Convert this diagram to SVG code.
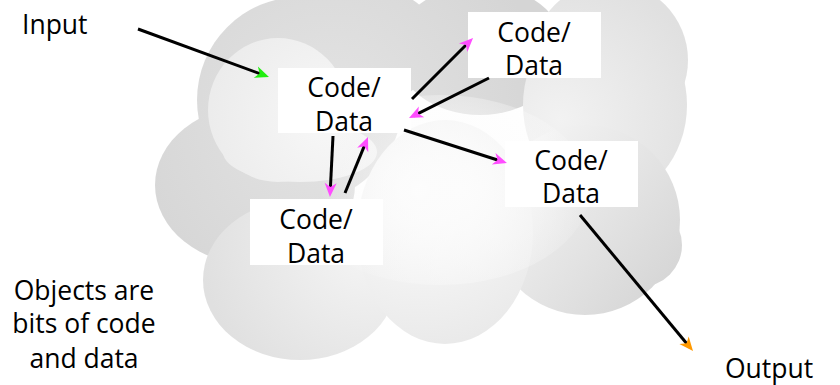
<svg xmlns="http://www.w3.org/2000/svg" width="840" height="385" viewBox="0 0 840 385">
<style>
.t{font-family:"Open Sans",Lato,"Liberation Sans",sans-serif;font-size:26.5px;fill:#000}
.box{fill:#fff}
.c{stroke:#000;stroke-width:3;fill:none}
</style>
<defs>
<radialGradient id="gDark" gradientUnits="userSpaceOnUse" cx="330" cy="120" r="220"><stop offset="0" stop-color="#e4e4e4"/><stop offset="1" stop-color="#d5d5d5"/></radialGradient>
<radialGradient id="gRight" gradientUnits="userSpaceOnUse" cx="560" cy="120" r="150"><stop offset="0" stop-color="#f2f2f2"/><stop offset="1" stop-color="#e0e0e0"/></radialGradient>
<radialGradient id="gLL" gradientUnits="userSpaceOnUse" cx="370" cy="240" r="170"><stop offset="0" stop-color="#f6f6f6"/><stop offset="1" stop-color="#e0e0e0"/></radialGradient>
<radialGradient id="gBM" gradientUnits="userSpaceOnUse" cx="420" cy="190" r="170"><stop offset="0" stop-color="#fdfdfd"/><stop offset="1" stop-color="#e8e8e8"/></radialGradient>
<linearGradient id="gBR" gradientUnits="userSpaceOnUse" x1="490" y1="140" x2="690" y2="300"><stop offset="0" stop-color="#f8f8f8"/><stop offset="1" stop-color="#d2d2d2"/></linearGradient>
<radialGradient id="gL1" gradientUnits="userSpaceOnUse" cx="330" cy="120" r="130"><stop offset="0" stop-color="#f8f8f8"/><stop offset="1" stop-color="#ebebeb"/></radialGradient>
<radialGradient id="gGlow" gradientUnits="userSpaceOnUse" cx="460" cy="190" r="140"><stop offset="0" stop-color="#fcfcfc" stop-opacity="1"/><stop offset="1" stop-color="#fcfcfc" stop-opacity="0"/></radialGradient>
<marker id="mG" markerUnits="userSpaceOnUse" viewBox="-15 -8 22 16" markerWidth="22" markerHeight="16" refX="-5" refY="0" orient="auto" overflow="visible"><path d="M0,0 L-14,-6 L-10,0 L-14,6 Z" fill="#22ee11"/></marker>
<marker id="mM" markerUnits="userSpaceOnUse" viewBox="-15 -8 22 16" markerWidth="22" markerHeight="16" refX="-5" refY="0" orient="auto" overflow="visible"><path d="M0,0 L-14,-6 L-10,0 L-14,6 Z" fill="#ff4dff"/></marker>
<marker id="mO" markerUnits="userSpaceOnUse" viewBox="-15 -8 22 16" markerWidth="22" markerHeight="16" refX="-5" refY="0" orient="auto" overflow="visible"><path d="M0,0 L-14,-6 L-10,0 L-14,6 Z" fill="#ff9900"/></marker>
</defs>
<g id="cloud">
<ellipse cx="255" cy="185" rx="100" ry="80" fill="url(#gDark)"/>
<circle cx="300" cy="100" r="103" fill="url(#gDark)"/>
<ellipse cx="360" cy="45" rx="80" ry="60" fill="url(#gDark)"/>
<ellipse cx="480" cy="50" rx="85" ry="65" fill="url(#gDark)"/>
<circle cx="610" cy="60" r="78" fill="url(#gRight)"/>
<ellipse cx="605" cy="105" rx="82" ry="95" fill="url(#gRight)"/>
<ellipse cx="300" cy="280" rx="97" ry="80" fill="url(#gLL)"/>
<circle cx="640" cy="245" r="42" fill="url(#gBR)"/>
<ellipse cx="585" cy="220" rx="95" ry="95" fill="url(#gBR)"/>
<ellipse cx="445" cy="232" rx="88" ry="112" fill="url(#gBM)"/>
<ellipse cx="278" cy="110" rx="70" ry="72" fill="url(#gL1)"/>
<ellipse cx="300" cy="152" rx="77" ry="30" fill="url(#gL1)"/>
<ellipse cx="440" cy="190" rx="150" ry="95" fill="url(#gGlow)"/>
</g>
<g id="input"><text class="t" x="22" y="34">Input</text></g>
<g id="output"><text class="t" x="725" y="378">Output</text></g>
<g id="note">
<text class="t" text-anchor="middle" x="84" y="300">Objects are</text>
<text class="t" text-anchor="middle" x="84" y="333">bits of code</text>
<text class="t" text-anchor="middle" x="84" y="368">and data</text>
</g>
<g id="node1"><rect class="box" x="278" y="68" width="133" height="65"/><text class="t" text-anchor="middle" x="344" y="97">Code/</text><text class="t" text-anchor="middle" x="344" y="131">Data</text></g>
<g id="node2"><rect class="box" x="468" y="12" width="133" height="66"/><text class="t" text-anchor="middle" x="534" y="42">Code/</text><text class="t" text-anchor="middle" x="534" y="75">Data</text></g>
<g id="node3"><rect class="box" x="505" y="141" width="133" height="66"/><text class="t" text-anchor="middle" x="571" y="170">Code/</text><text class="t" text-anchor="middle" x="571" y="203">Data</text></g>
<g id="node4"><rect class="box" x="250" y="199" width="133" height="66"/><text class="t" text-anchor="middle" x="316" y="229">Code/</text><text class="t" text-anchor="middle" x="316" y="263">Data</text></g>
<g id="connectors">
<line class="c" x1="138" y1="29" x2="264.3" y2="75.3" marker-end="url(#mG)"/>
<line class="c" x1="412" y1="99" x2="469.5" y2="41.5" marker-end="url(#mM)"/>
<line class="c" x1="489" y1="78" x2="413.5" y2="115.8" marker-end="url(#mM)"/>
<line class="c" x1="404" y1="130" x2="502.2" y2="161.5" marker-end="url(#mM)"/>
<line class="c" x1="333" y1="136" x2="330.2" y2="192" marker-end="url(#mM)"/>
<line class="c" x1="345" y1="193" x2="366.1" y2="141.6" marker-end="url(#mM)"/>
<line class="c" x1="580" y1="215" x2="689.8" y2="347.2" marker-end="url(#mO)"/>
</g>
</svg>
